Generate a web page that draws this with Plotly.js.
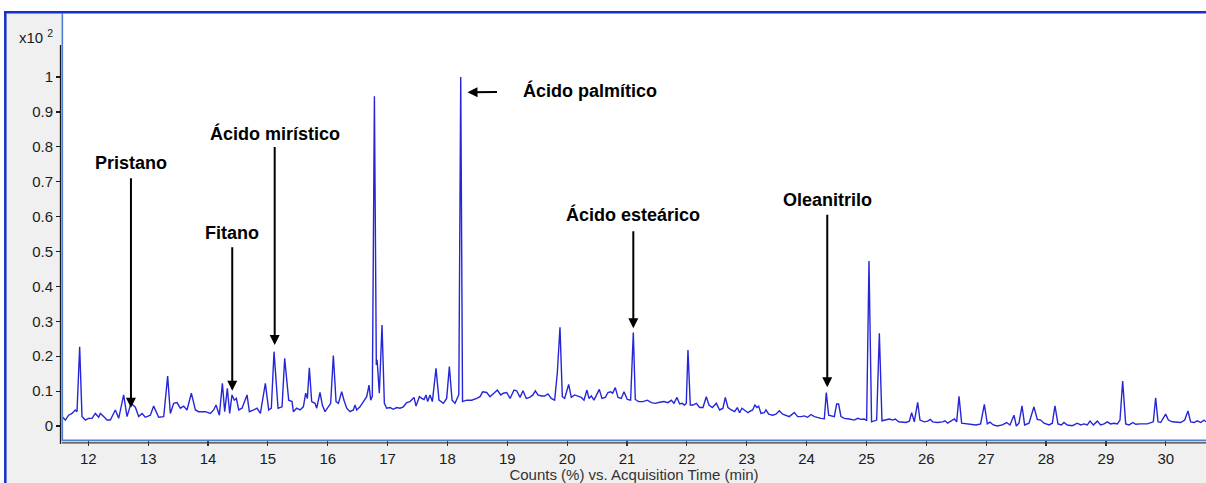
<!DOCTYPE html>
<html>
<head>
<meta charset="utf-8">
<script src="https://cdn.plot.ly/plotly-3.0.1.min.js"></script>
<style>
html,body{margin:0;padding:0;background:#ffffff;}
#chart{width:1206px;height:483px;}
</style>
</head>
<body>
<div id="chart"></div>
<script>
// Acquisition time (min)
const times = [
11.561,11.617,11.672,11.728,11.784,11.812,11.856,11.895,11.951,12.006,12.062,12.118,12.174,12.201,12.257,12.313,12.368,12.452,12.508,12.591,
12.647,12.714,12.786,12.842,12.898,12.953,13.037,13.092,13.176,13.260,13.326,13.371,13.427,13.482,13.538,13.594,13.649,13.722,13.789,13.844,
13.956,14.039,14.095,14.134,14.190,14.240,14.279,14.323,14.362,14.401,14.440,14.474,14.513,14.568,14.652,14.691,14.763,14.819,14.875,14.958,
15.014,15.058,15.103,15.170,15.237,15.281,15.348,15.404,15.426,15.481,15.537,15.593,15.632,15.660,15.693,15.732,15.788,15.816,15.871,15.910,
15.955,16.010,16.049,16.094,16.139,16.178,16.233,16.272,16.317,16.372,16.428,16.456,16.484,16.539,16.595,16.651,16.690,16.718,16.745,16.780,
16.812,16.825,16.862,16.907,16.946,16.985,17.041,17.096,17.152,17.208,17.263,17.319,17.375,17.442,17.475,17.531,17.570,17.609,17.642,17.670,
17.709,17.748,17.809,17.859,17.932,17.987,18.032,18.077,18.127,18.171,18.190,18.222,18.252,18.322,18.405,18.489,18.544,18.589,18.656,18.711,
18.767,18.834,18.890,18.934,18.990,19.046,19.112,19.157,19.213,19.262,19.317,19.373,19.429,19.468,19.512,19.568,19.624,19.679,19.735,19.791,
19.835,19.880,19.919,19.958,20.025,20.069,20.125,20.180,20.236,20.281,20.331,20.364,20.403,20.448,20.492,20.537,20.581,20.637,20.682,20.726,
20.760,20.804,20.849,20.904,20.949,21.005,21.060,21.105,21.138,21.194,21.266,21.339,21.406,21.472,21.545,21.617,21.684,21.740,21.784,21.834,
21.879,21.918,21.962,21.990,22.018,22.057,22.102,22.157,22.213,22.269,22.324,22.369,22.425,22.492,22.547,22.603,22.642,22.686,22.742,22.798,
22.842,22.881,22.920,22.965,23.021,23.043,23.098,23.137,23.171,23.199,23.238,23.293,23.321,23.366,23.433,23.488,23.544,23.600,23.655,23.711,
23.795,23.850,23.906,23.962,24.017,24.073,24.129,24.184,24.240,24.296,24.329,24.368,24.424,24.463,24.502,24.535,24.574,24.630,24.713,24.797,
24.853,24.908,24.964,25.003,25.042,25.085,25.170,25.215,25.259,25.315,25.382,25.437,25.482,25.538,25.604,25.660,25.716,25.755,25.799,25.855,
25.894,25.966,26.022,26.067,26.106,26.189,26.273,26.312,26.356,26.429,26.468,26.507,26.546,26.590,26.663,26.746,26.830,26.907,26.969,27.019,
27.063,27.119,27.186,27.269,27.342,27.397,27.464,27.503,27.548,27.598,27.642,27.715,27.798,27.854,27.910,27.966,28.049,28.105,28.149,28.199,
28.255,28.300,28.355,28.439,28.522,28.578,28.634,28.689,28.734,28.790,28.857,28.912,28.968,29.024,29.079,29.135,29.191,29.235,29.280,29.330,
29.386,29.452,29.497,29.580,29.692,29.792,29.831,29.870,29.915,29.998,30.043,30.110,30.193,30.249,30.316,30.371,30.416,30.472,30.527,30.583,
30.639,30.672
];
// Counts (%) x10^2
const counts = [
0.027,0.017,0.031,0.036,0.046,0.041,0.227,0.027,0.017,0.022,0.022,0.036,0.025,0.036,0.027,0.017,0.017,0.046,0.022,0.089,
0.027,0.065,0.054,0.027,0.036,0.025,0.031,0.057,0.025,0.027,0.143,0.036,0.065,0.067,0.051,0.057,0.046,0.094,0.046,0.041,
0.041,0.036,0.046,0.060,0.031,0.122,0.041,0.108,0.036,0.089,0.074,0.079,0.046,0.051,0.089,0.041,0.046,0.051,0.036,0.122,
0.046,0.051,0.213,0.051,0.055,0.194,0.074,0.070,0.041,0.051,0.046,0.055,0.094,0.079,0.167,0.070,0.065,0.051,0.096,0.060,
0.041,0.055,0.065,0.202,0.070,0.065,0.098,0.074,0.051,0.041,0.046,0.060,0.046,0.055,0.070,0.084,0.117,0.074,0.085,0.945,
0.175,0.190,0.094,0.289,0.065,0.051,0.053,0.048,0.053,0.051,0.055,0.067,0.070,0.082,0.057,0.084,0.079,0.076,0.089,0.070,
0.089,0.070,0.165,0.074,0.065,0.079,0.170,0.074,0.065,0.084,0.090,1.000,0.070,0.074,0.074,0.079,0.084,0.098,0.096,0.084,
0.092,0.103,0.089,0.094,0.096,0.079,0.103,0.101,0.082,0.101,0.079,0.082,0.089,0.101,0.089,0.086,0.086,0.092,0.079,0.074,
0.151,0.283,0.084,0.079,0.119,0.082,0.089,0.086,0.082,0.074,0.103,0.079,0.086,0.074,0.089,0.105,0.079,0.082,0.096,0.098,
0.094,0.110,0.082,0.079,0.098,0.076,0.074,0.268,0.076,0.070,0.070,0.074,0.067,0.065,0.068,0.070,0.067,0.074,0.065,0.082,
0.063,0.065,0.060,0.065,0.218,0.060,0.060,0.065,0.053,0.053,0.084,0.060,0.053,0.065,0.046,0.051,0.082,0.053,0.046,0.041,
0.053,0.038,0.051,0.046,0.038,0.041,0.046,0.060,0.053,0.057,0.036,0.038,0.046,0.034,0.031,0.034,0.044,0.034,0.031,0.027,
0.039,0.027,0.027,0.029,0.025,0.033,0.027,0.024,0.022,0.021,0.096,0.031,0.029,0.027,0.063,0.063,0.027,0.022,0.020,0.017,
0.022,0.019,0.020,0.015,0.473,0.012,0.017,0.266,0.015,0.017,0.020,0.017,0.020,0.012,0.010,0.010,0.014,0.038,0.012,0.068,
0.017,0.012,0.014,0.019,0.012,0.010,0.012,0.015,0.008,0.017,0.020,0.012,0.085,0.008,0.006,0.005,0.003,0.006,0.062,0.006,
0.011,0.003,0.000,0.003,0.010,0.003,0.031,0.000,0.008,0.058,0.003,0.008,0.055,0.019,0.017,0.008,0.003,0.008,0.058,0.006,
0.003,0.010,0.003,0.001,0.008,0.003,0.006,0.003,0.014,0.003,0.014,0.003,0.006,0.012,0.006,0.008,0.006,0.017,0.129,0.006,
0.003,0.010,0.005,0.006,0.006,0.012,0.081,0.012,0.010,0.034,0.017,0.012,0.012,0.010,0.017,0.043,0.012,0.010,0.015,0.010,
0.017,0.012
];
const yTickVals = [0,0.1,0.2,0.3,0.4,0.5,0.6,0.7,0.8,0.9,1];
const yTickText = ['0','0.1','0.2','0.3','0.4','0.5','0.6','0.7','0.8','0.9','1'];
const xTickVals = [12,13,14,15,16,17,18,19,20,21,22,23,24,25,26,27,28,29,30];
const peakNames = ['Pristano','Fitano','Ácido mirístico','Ácido palmítico','Ácido esteárico','Oleanitrilo'];
const peakTimes = [12.713,14.405,15.114,18.335,21.105,24.345];
const peakTipCounts = [0.052,0.101,0.232,0.956,0.280,0.111];

// label placement: text centre offset from the arrow tip (px) and gap before the arrow starts
const labelPlacement = [
  {ax:0,   ay:-245, gap:4},
  {ax:0,   ay:-158, gap:3},
  {ax:0,   ay:-212, gap:2},
  {ax:122, ay:-2,   gap:24},
  {ax:0,   ay:-114, gap:5},
  {ax:0,   ay:-187, gap:3}
];

const FONT = 'Liberation Sans, Arial, Helvetica, sans-serif';
const annotations = peakNames.map((name, i) => {
  const p = labelPlacement[i];
  return {
    x: peakTimes[i], y: peakTipCounts[i], xref:'x', yref:'y',
    text: '<b>' + name + '</b>', showarrow:true, ax:p.ax, ay:p.ay,
    arrowhead:2, arrowsize:1, arrowwidth:2, arrowcolor:'#000000',
    standoff:0, startstandoff:p.gap,
    font:{family:FONT, size:18, color:'#000000'}
  };
});
annotations.push({
  xref:'paper', yref:'paper', x:-0.0393, y:0.9438, xanchor:'left', yanchor:'middle',
  text:'x10 <sup>2</sup>', showarrow:false,
  font:{family:FONT, size:15, color:'#1a1a1a'}
});

const shapes = [
  // white outside the frame
  {type:'rect', xref:'paper', yref:'paper', x0:-0.06, x1:1.01, y0:1.0047, y1:1.05, fillcolor:'#ffffff', line:{width:0}},
  {type:'rect', xref:'paper', yref:'paper', x0:-0.06, x1:-0.0507, y0:-0.12, y1:1.05, fillcolor:'#ffffff', line:{width:0}},
  // dark blue outer frame
  {type:'line', xref:'paper', yref:'paper', x0:-0.0507, x1:1.0, y0:1.0016, y1:1.0016, line:{color:'#1530c8', width:2.5}},
  {type:'line', xref:'paper', yref:'paper', x0:-0.04956, x1:-0.04956, y0:-0.12, y1:1.0016, line:{color:'#1530c8', width:2.5}},
  // light blue plot border
  {type:'line', xref:'paper', yref:'paper', x0:0.0003, x1:0.0003, y0:-0.0023, y1:1.0, line:{color:'#4f7fd8', width:1.6}},
  {type:'line', xref:'paper', yref:'paper', x0:0, x1:1, y0:-0.0008, y1:-0.0008, line:{color:'#4f7fd8', width:1.8}},
  // dark axis lines
  {type:'line', xref:'paper', yref:'paper', xsizemode:'pixel', xanchor:0, x0:-1.5, x1:-1.5, y0:0.9251, y1:-0.0094, line:{color:'#1a1a1a', width:1.3}},
  {type:'line', xref:'paper', yref:'paper', x0:0, x1:1, y0:-0.0066, y1:-0.0066, line:{color:'#3a3a3a', width:1.3}}
];

const trace = {
  type:'scatter', mode:'lines', x:times, y:counts,
  line:{color:'#2626d8', width:1.4}, hoverinfo:'skip', showlegend:false
};

const layout = {
  width:1206, height:483,
  margin:{l:62, r:0, t:13, b:43, pad:0},
  paper_bgcolor:'#f0f0f0', plot_bgcolor:'#ffffff',
  showlegend:false,
  xaxis:{
    range:[11.561, 30.672], tickvals:xTickVals, ticks:'outside', ticklen:5, tickwidth:1.2,
    tickcolor:'#333333', showgrid:false, zeroline:false, showline:false,
    tickfont:{family:FONT, size:15, color:'#1a1a1a'},
    title:{text:'Counts (%) vs. Acquisition Time (min)', font:{family:FONT, size:15, color:'#333333'}, standoff:0},
    automargin:false
  },
  yaxis:{
    range:[-0.0401, 1.1834], tickvals:yTickVals, ticktext:yTickText, ticks:'outside', ticklen:5, tickwidth:1.2,
    tickcolor:'#1a1a1a', showgrid:false, zeroline:false, showline:false,
    tickfont:{family:FONT, size:15, color:'#1a1a1a'}, automargin:false
  },
  annotations:annotations,
  shapes:shapes
};

Plotly.newPlot('chart', [trace], layout, {staticPlot:true, displayModeBar:false});
</script>
</body>
</html>
